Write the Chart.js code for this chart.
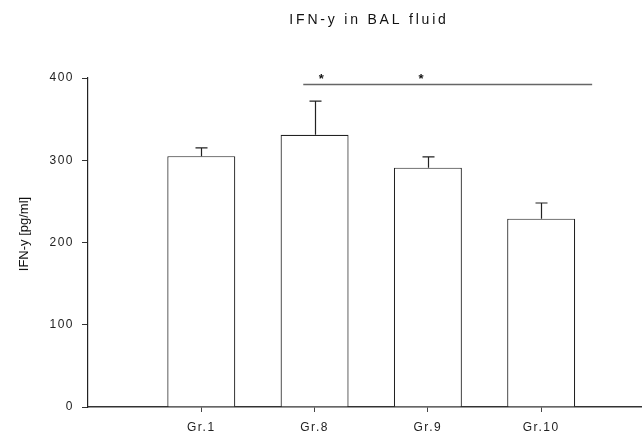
<!DOCTYPE html>
<html>
<head>
<meta charset="utf-8">
<script src="https://cdn.jsdelivr.net/npm/chart.js@4.4.1/dist/chart.umd.min.js"></script>
<style>
  body { margin: 0; background: #fff; }
  canvas { display: block; }
</style>
</head>
<body>
<canvas id="ifn-chart" width="642" height="434"></canvas>
<script>
// data
const groups = ['Gr.1', 'Gr.8', 'Gr.9', 'Gr.10'];
const meanValues = [305, 331, 291, 229];
const errValues = [10, 41, 13, 19];
const yTicks = [0, 100, 200, 300, 400];

// significance bracket (data units)
const sigLine = { from: 1.9, to: 4.45, y: 392 };
const sigStars = [2.06, 2.94];

const titleText = 'IFN-y in BAL fluid';
const yTitle = 'IFN-y [pg/ml]';

Chart.defaults.font.family = '"Liberation Sans", Arial, sans-serif';
Chart.defaults.color = '#222';

// error bars, significance line, title and y label
const extras = {
    id: 'extras',
    beforeDraw(chart) {
        chart.ctx.letterSpacing = '1.5px';
    },
    afterDatasetsDraw(chart) {
        const { ctx, scales: { x, y } } = chart;
        ctx.save();
        ctx.strokeStyle = '#222';
        ctx.lineWidth = 1.2;
        meanValues.forEach((v, i) => {
            const px = Math.round(x.getPixelForValue(i + 1)) + 0.5;
            const top = y.getPixelForValue(v + errValues[i]);
            const base = y.getPixelForValue(v);
            ctx.beginPath();
            ctx.moveTo(px, base);
            ctx.lineTo(px, top);
            ctx.moveTo(px - 6, top);
            ctx.lineTo(px + 6, top);
            ctx.stroke();
        });
        ctx.restore();
    },
    afterDraw(chart) {
        const { ctx, chartArea, scales: { x, y } } = chart;
        ctx.save();
        // significance line
        ctx.strokeStyle = '#666';
        ctx.lineWidth = 1.5;
        const ly = y.getPixelForValue(sigLine.y);
        ctx.beginPath();
        ctx.moveTo(x.getPixelForValue(sigLine.from), ly);
        ctx.lineTo(x.getPixelForValue(sigLine.to), ly);
        ctx.stroke();
        ctx.letterSpacing = '0px';
        ctx.fillStyle = '#111';
        ctx.font = 'bold 13px "Liberation Sans", Arial, sans-serif';
        ctx.textAlign = 'center';
        ctx.textBaseline = 'middle';
        sigStars.forEach(s => ctx.fillText('*', x.getPixelForValue(s), ly - 5));

        // title
        ctx.font = '14px "Liberation Sans", Arial, sans-serif';
        ctx.letterSpacing = '2.8px';
        ctx.fillStyle = '#111';
        ctx.fillText(titleText, (chartArea.left + chartArea.right) / 2 + 4, 20);

        // y axis title
        ctx.letterSpacing = '0px';
        ctx.font = '13px "Liberation Sans", Arial, sans-serif';
        ctx.translate(24, 234);
        ctx.rotate(-Math.PI / 2);
        ctx.fillText(yTitle, 0, 0);
        ctx.restore();
    }
};

const ctx = document.getElementById('ifn-chart').getContext('2d');
new Chart(ctx, {
    type: 'bar',
    data: {
        datasets: [{
            data: meanValues.map((v, i) => ({ x: i + 1, y: v })),
            backgroundColor: '#fff',
            borderColor: '#222',
            borderWidth: 1.2,
            categoryPercentage: 0.6,
            barPercentage: 1
        }]
    },
    options: {
        responsive: false,
        animation: false,
        devicePixelRatio: 1,
        layout: { padding: { top: 78, right: 0, bottom: 0, left: 0 } },
        plugins: {
            legend: { display: false },
            tooltip: { enabled: false },
            title: { display: false }
        },
        scales: {
            x: {
                type: 'linear',
                min: 0,
                max: 4.89,
                offset: false,
                afterFit: s => { s.height = 27; },
                afterBuildTicks: s => { s.ticks = groups.map((g, i) => ({ value: i + 1 })); },
                grid: { offset: false, drawOnChartArea: false, tickLength: 5, color: '#444', tickWidth: 1 },
                border: { color: '#333', width: 1.5 },
                ticks: {
                    padding: 8,
                    font: { size: 12 },
                    color: '#222',
                    callback: v => groups[v - 1] || ''
                }
            },
            y: {
                min: 0,
                max: 400,
                afterFit: s => { s.width = 88; },
                afterBuildTicks: s => { s.ticks = yTicks.map(v => ({ value: v })); },
                grid: { drawOnChartArea: false, tickLength: 6, color: '#333', tickWidth: 1 },
                border: { color: '#222', width: 1.2 },
                ticks: { padding: 8, font: { size: 12 }, color: '#222' }
            }
        }
    },
    plugins: [extras]
});
</script>
</body>
</html>
